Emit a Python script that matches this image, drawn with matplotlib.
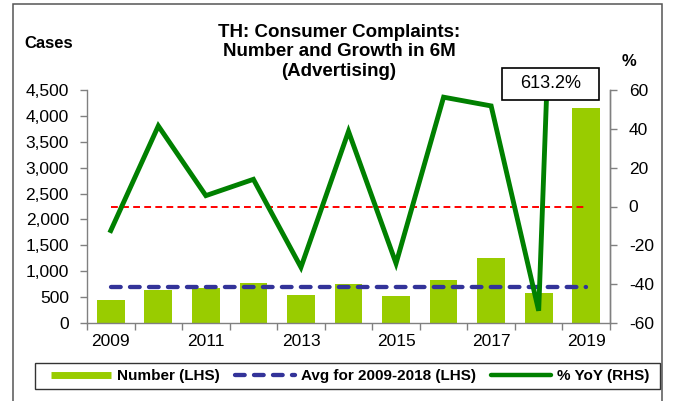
import matplotlib
matplotlib.use("Agg")
import matplotlib.pyplot as plt
from matplotlib.lines import Line2D
from matplotlib.patches import Rectangle
import numpy as np

plt.rcParams['font.family'] = ['Liberation Sans', 'DejaVu Sans']
plt.rcParams['axes.unicode_minus'] = False

years = [2009, 2010, 2011, 2012, 2013, 2014, 2015, 2016, 2017, 2018, 2019]
cases = [450, 640, 680, 780, 540, 750, 530, 830, 1250, 570, 4150]
yoy = [-12.4, 41.5, 5.6, 14.0, -31.3, 38.7, -29.3, 56.3, 51.8, -53.7, 613.2]
avg_2009_2018 = float(np.mean(cases[:10]))
x_labels = ["2009", "2011", "2013", "2015", "2017", "2019"]
left_ticks = list(range(0, 5000, 500))
right_ticks = list(range(-60, 80, 20))

W, H = 673, 401
fig = plt.figure(figsize=(W / 100, H / 100), dpi=100)
fig.patch.set_facecolor('white')

# outer frame
fig.add_artist(Rectangle((13 / W, -0.02), (662 - 13) / W, 1.02 - 4 / H,
                         transform=fig.transFigure, fill=False,
                         edgecolor='#555555', linewidth=1.1))

L, R, T, B = 87, 610, 90, 323
ax = fig.add_axes([L / W, 1 - B / H, (R - L) / W, (B - T) / H])
ax2 = ax.twinx()

x = np.arange(len(years))
ax.bar(x, cases, width=0.585, color='#99CC00', zorder=2)
ax.plot([x[0], x[-1]], [avg_2009_2018, avg_2009_2018], color='#333399',
        linewidth=3.1, dashes=(2.25, 2.16), dash_capstyle='round', zorder=3)

ax2.plot([x[0], x[-1]], [0, 0], color='#FF0000', linewidth=1.4,
         dashes=(3.5, 2.2), zorder=3)
ax2.plot(x, yoy, color='#008000', linewidth=3.5, zorder=4,
         solid_joinstyle='miter')

ax.set_xlim(-0.5, len(years) - 0.5)
ax.set_ylim(0, 4500)
ax2.set_ylim(-60, 60)

ax.set_yticks(left_ticks)
ax.set_yticklabels([f"{v:,}" for v in left_ticks])
ax2.set_yticks(right_ticks)
ax2.set_yticklabels([str(v) for v in right_ticks])

ax.set_xticks(np.arange(-0.5, len(years), 1.0))
ax.set_xticklabels([])
ax.set_xticks([years.index(int(s)) for s in x_labels], minor=True)
ax.set_xticklabels(x_labels, minor=True)
ax.tick_params(axis='x', which='minor', length=0, pad=8, labelsize=12.5)
ax.tick_params(axis='x', which='major', length=5, width=1, color='#808080', direction='out')
ax.tick_params(axis='y', length=5, width=1, color='#808080', direction='out', pad=8, labelsize=12.5)
ax2.tick_params(axis='y', length=5, width=1, color='#808080', direction='out', pad=8.5, labelsize=12.5)

for a in (ax, ax2):
    a.spines['top'].set_visible(False)
    for s in ('left', 'right', 'bottom'):
        a.spines[s].set_color('#808080')
        a.spines[s].set_linewidth(1.0)
    a.patch.set_visible(False)
ax2.spines['left'].set_visible(False)
ax2.spines['bottom'].set_visible(False)

# annotation box for off-scale value
bx0, bx1 = (502 - L) / (R - L), (599 - L) / (R - L)
by0, by1 = (B - 100) / (B - T), (B - 68) / (B - T)
ax2.add_patch(Rectangle((bx0, by0), bx1 - bx0, by1 - by0, transform=ax2.transAxes,
                        facecolor='white', edgecolor='black', linewidth=1.2,
                        clip_on=False, zorder=10))
ax2.text((bx0 + bx1) / 2, (by0 + by1) / 2, f"{yoy[-1]:.1f}%", transform=ax2.transAxes,
         ha='center', va='center', fontsize=13, zorder=11, clip_on=False)

fig.text(339 / W, 1 - 52 / H,
         "TH: Consumer Complaints:\nNumber and Growth in 6M\n(Advertising)",
         ha='center', va='center', fontsize=13.5, fontweight='bold', linespacing=1.22)
fig.text(49 / W, 1 - 43.5 / H, "Cases", ha='center', va='center', fontsize=12, fontweight='bold')
fig.text(629 / W, 1 - 62 / H, "%", ha='center', va='center', fontsize=12, fontweight='bold')

# legend frame
fig.add_artist(Rectangle((35 / W, 1 - 389 / H), (660 - 35) / W, 26 / H,
                         transform=fig.transFigure, fill=False,
                         edgecolor='#333333', linewidth=1.0))
handles = [
    Line2D([], [], color='#99CC00', linewidth=5.0, solid_capstyle='butt'),
    Line2D([], [], color='#333399', linewidth=3.1, dashes=(2.25, 2.16), dash_capstyle='round'),
    Line2D([], [], color='#008000', linewidth=3.2, solid_capstyle='round'),
]
labels = ["Number (LHS)", "Avg for 2009-2018 (LHS)", "% YoY (RHS)"]
fig.legend(handles, labels, loc='center left', bbox_to_anchor=(51 / W, 1 - 376 / H),
           ncol=3, frameon=False, prop={'weight': 'bold', 'size': 11},
           handlelength=3.93, handletextpad=0.39, columnspacing=0.98,
           borderpad=0, borderaxespad=0)

fig.savefig("out.png", dpi=100, facecolor='white')
